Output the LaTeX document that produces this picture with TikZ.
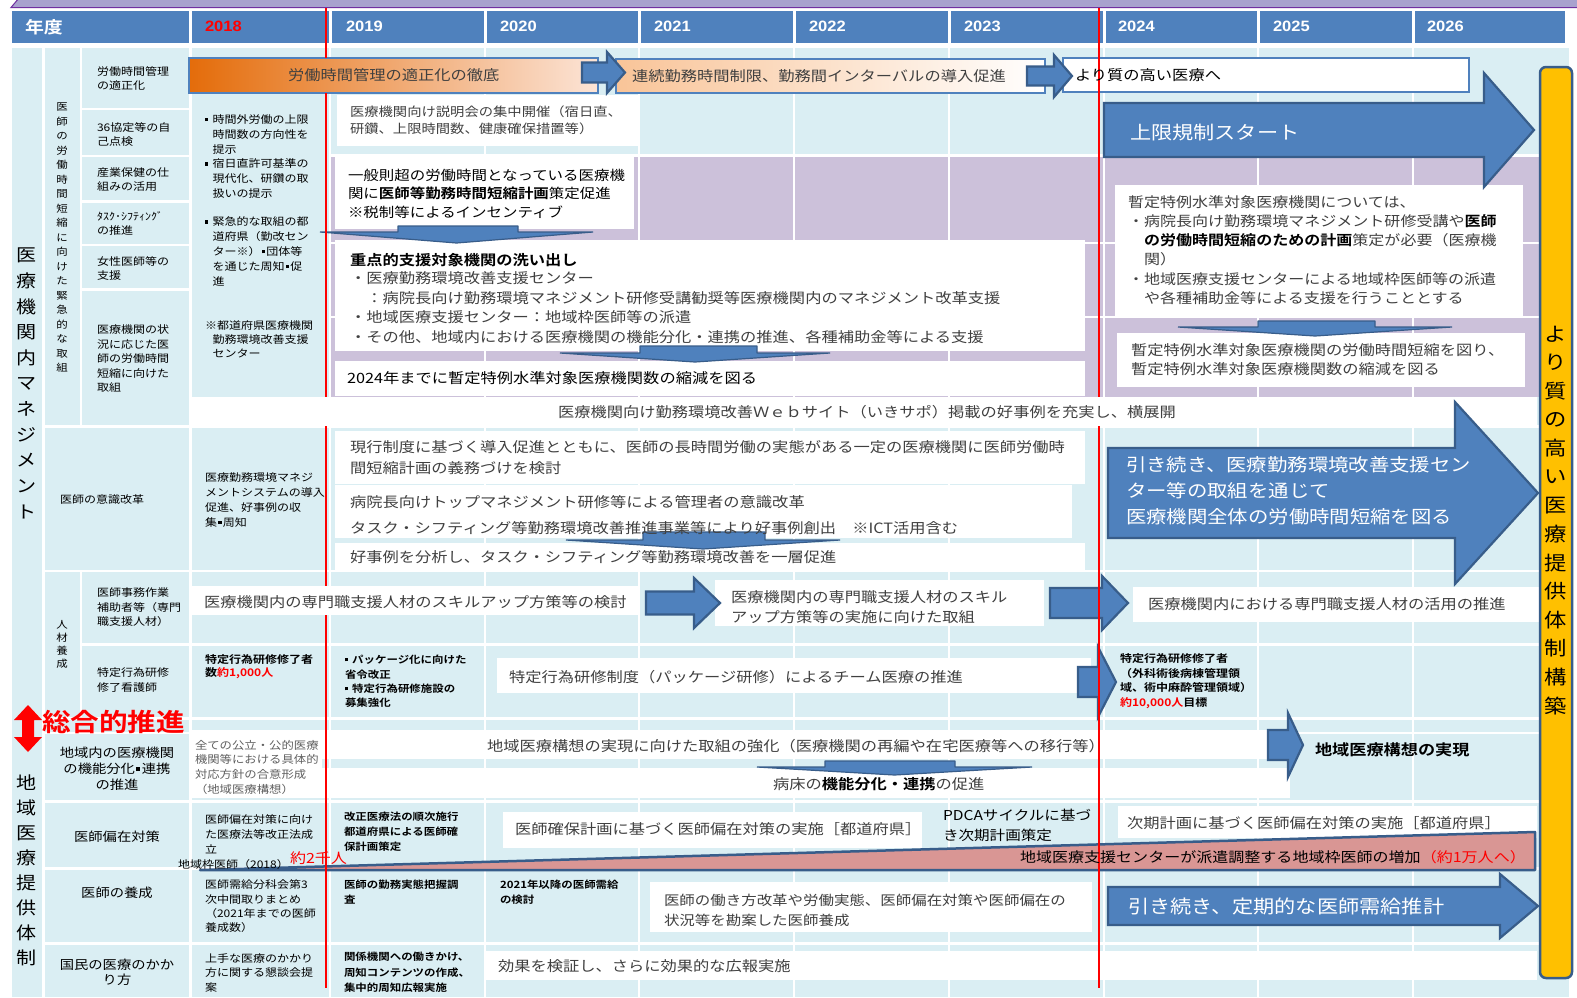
\documentclass[tikz,border=0pt]{standalone}
\usepackage{fontspec}
\setmainfont[FakeStretch=1.145,BoldFont={Noto Sans CJK JP Bold}]{Noto Sans CJK JP}
\newfontfamily\arialf[FakeStretch=1.1]{Liberation Sans}
\definecolor{cellblue}{RGB}{218,238,243}
\definecolor{hdrblue}{RGB}{79,129,189}
\definecolor{purp}{RGB}{204,193,218}
\definecolor{abfill}{RGB}{79,129,189}
\definecolor{abline}{RGB}{56,93,138}
\definecolor{txtgray}{RGB}{64,64,64}
\definecolor{lgray}{RGB}{96,96,96}
\definecolor{orangeL}{RGB}{228,108,10}
\definecolor{peach}{RGB}{252,228,214}
\definecolor{peach2}{RGB}{249,196,152}
\definecolor{yel}{RGB}{255,192,0}
\definecolor{pinkw}{RGB}{217,150,148}
\definecolor{topband}{RGB}{168,162,206}
\definecolor{topborder}{RGB}{112,48,160}
\definecolor{redc}{RGB}{255,0,0}
\newcommand\sq{\makebox[0.72em][l]{\rule[0.22em]{0.32em}{0.32em}}}
\newcommand\sqi{\makebox[0.55em]{\rule[0.22em]{0.32em}{0.32em}}}
\newcommand\ind{\hspace*{0.72em}}
\newcommand\bk[1]{{\bfseries\color{black}#1}}
\newcommand\rarrow[6]{\filldraw[barrow] (#1,{#4-#5}) -- (#2,{#4-#5}) -- (#2,{#4-#6}) -- (#3,#4) -- (#2,{#4+#6}) -- (#2,{#4+#5}) -- (#1,{#4+#5}) -- cycle;}
\newcommand\darrow[7]{\filldraw[dnarrow] (#1,#5) -- (#2,#5) -- (#2,#6) -- (#4,#6) -- ({(#3+#4)/2},#7) -- (#3,#6) -- (#1,#6) -- cycle;}
\newcommand\vtext[6]{\foreach \ch [count=\i from 0] in {#6} {\node[#2] (#1\i) at (#3,{#4+\i*#5}) {\ch};}}
\tikzset{
 base/.style={anchor=west, inner sep=0pt, outer sep=0pt, align=left},
 tx/.style={base, text=txtgray, font=\fontsize{14.2}{19.7}\selectfont},
 txb/.style={base, text=black, font=\fontsize{14.2}{19.7}\selectfont},
 sm/.style={base, text=black, font=\fontsize{10.5}{14.8}\selectfont},
 smb/.style={base, text=black, font=\bfseries\fontsize{10.5}{14.8}\selectfont},
 lbl/.style={base, text=black, font=\fontsize{10.5}{14}\selectfont},
 lblc/.style={anchor=center, inner sep=0pt, align=center, text=black, font=\fontsize{12.5}{16}\selectfont},
 big/.style={base, text=white, font=\fontsize{18}{26}\selectfont},
 yr/.style={base, text=white, font=\arialf\bfseries\fontsize{15}{15}\selectfont},
 vsmall/.style={inner sep=0pt, font=\fontsize{10}{10}\selectfont},
 vbig/.style={inner sep=0pt, font=\fontsize{17.5}{17.5}\selectfont},
 vyel/.style={inner sep=0pt, font=\fontsize{19.5}{19.5}\selectfont},
 grid/.style={white, line width=2.5pt},
 redl/.style={draw=redc, line width=2pt},
 barrow/.style={fill=abfill, draw=abline, line width=2.2pt, line join=miter},
 dnarrow/.style={fill=abfill, draw=abline, line width=1.2pt, line join=bevel},
 wbox/.style={fill=white},
 obar/.style={draw=hdrblue, line width=1.1pt},
}
\begin{document}
\begin{tikzpicture}[x=1pt,y=-1pt]
\useasboundingbox (0,0) rectangle (1577,997);
\fill[white] (0,0) rectangle (1577,997);
% top band
\filldraw[fill=topband, draw=topborder, line width=1pt] (11,7.5) -- (19,-2) -- (1580,-2) -- (1580,7.5) -- cycle;
% header
\fill[hdrblue] (12,11) rectangle (1565,43);
\foreach \xx in {190.5,330,485,639,794,949,1104,1258,1413} \draw[white, line width=3pt] (\xx,10) -- (\xx,44);
\node[base, text=white, font=\bfseries\fontsize{16.5}{16.5}\selectfont] (hNendo) at (25,27.5) {年度};
\node[yr, text=redc] (h2018) at (205,26.5) {2018};
\foreach \yv/\xv in {2019/346,2020/500,2021/654,2022/809,2023/964,2024/1118,2025/1273,2026/1427} \node[yr] (h\yv) at (\xv,26.5) {\yv};
% body background
\fill[cellblue] (12,48) rectangle (1569,997);
\fill[purp] (331,157) rectangle (1569,397);
% grid
\draw[grid] (43.5,48) -- (43.5,997);
\draw[grid] (81,48) -- (81,426.5);
\draw[grid] (81,571) -- (81,718.5);
\draw[grid] (190.5,48) -- (190.5,997);
\foreach \xx in {330,485,639,794,949,1104,1258,1413} \draw[grid] (\xx,48) -- (\xx,997);
\foreach \yy in {109,156,201.5,245,289.5} \draw[grid] (81,\yy) -- (190.5,\yy);
\draw[grid] (330,155.5) -- (1569,155.5);
\draw[grid] (330,243) -- (1569,243);
\draw[grid] (330,317) -- (1569,317);
\foreach \yy in {426.5,571,718.5,733,801.5,868.5,943.5} \draw[grid] (43.5,\yy) -- (1569,\yy);
\draw[grid] (81,644.5) -- (1569,644.5);
% white boxes
\fill[wbox] (337,95) rectangle (640,146);
\fill[wbox] (335,157) rectangle (634,229);
\fill[wbox] (335,240) rectangle (1085,351);
\fill[wbox] (335,361) rectangle (1085,396);
\fill[wbox] (1115,185) rectangle (1523,317);
\fill[wbox] (1117,333) rectangle (1525,387);
\fill[wbox] (335,431) rectangle (1085,484);
\fill[wbox] (335,485) rectangle (1072,538);
\fill[wbox] (335,543) rectangle (1085,570);
\fill[wbox] (715,580) rectangle (1044,626);
\fill[wbox] (1133,587) rectangle (1540,622);
\fill[wbox] (497,658) rectangle (1091,693);
\fill[wbox] (192,730) rectangle (1290,759);
\fill[wbox] (192,768) rectangle (1290,798);
\fill[wbox] (192,730) rectangle (322,798);
\fill[wbox] (503,812) rectangle (922,848);
\fill[wbox] (1118,806) rectangle (1537,838);
\fill[wbox] (650,882) rectangle (1092,932);
\fill[wbox] (484,951) rectangle (1537,980);
% wedge
\filldraw[fill=pinkw, draw=abline, line width=2.5pt, line join=round] (200,870) -- (1535,832) -- (1535,870) -- cycle;
% box to the right of the orange bars
\filldraw[fill=white, draw=hdrblue, line width=1.2pt] (1063,58) rectangle (1469,92);
% orange bars
\shade[left color=orangeL, right color=peach] (189,58) rectangle (598,93);
\draw[obar] (189,58) rectangle (598,93);
\shade[left color=peach2, right color=white] (616,59) rectangle (1045,93);
\draw[obar] (616,59) rectangle (1045,93);
% web band and skill-up box
\fill[wbox] (190,397) rectangle (1537,426);
\fill[wbox] (192,586) rectangle (640,615);
% right block arrows
\rarrow{582}{607}{625}{72.5}{10}{20.5}
\rarrow{1027}{1054}{1072}{76}{9.5}{21}
\rarrow{1104}{1484}{1534}{130}{27}{57}
\rarrow{1108}{1455}{1538}{493}{45}{91}
\rarrow{646}{694}{720}{603}{11.5}{25}
\rarrow{1050}{1102}{1128}{603}{15}{27}
\rarrow{1078}{1098}{1116}{682}{15}{35}
\rarrow{1268}{1288}{1303}{745}{15}{32}
\rarrow{1108}{1500}{1538}{906}{19}{32}
% down arrows
\darrow{398}{518}{320}{593}{226}{232}{243}
\darrow{640}{757}{560}{830}{346}{353}{362}
\darrow{1258}{1375}{1178}{1452}{321}{327}{336}
\darrow{643}{765}{566}{840}{532}{540}{549}
\darrow{825}{955}{757}{1032}{761}{767}{775}
% red lines
\draw[redl] (326,8) -- (326,58);
\draw[redl] (326,93) -- (326,397);
\draw[redl] (326,426) -- (326,586);
\draw[redl] (326,615) -- (326,988);
\draw[redl] (1099,8) -- (1099,397);
\draw[redl] (1099,426) -- (1099,988);
% yellow box
\filldraw[fill=yel, draw=abline, line width=2.5pt, rounded corners=6pt] (1540,67) rectangle (1572,978);
% red double arrow
\fill[redc] (28,705) -- (42,720) -- (34,720) -- (34,737) -- (42,737) -- (28,752) -- (14,737) -- (22,737) -- (22,720) -- (14,720) -- cycle;
\node[base, text=redc, font=\bfseries\fontsize{25}{25}\selectfont] (sogo) at (42,722) {総合的推進};
% vertical texts
\vtext{va}{vbig}{27}{255}{25.7}{医,療,機,関,内,マ,ネ,ジ,メ,ン,ト}
\vtext{vc}{vbig}{27}{783}{25}{地,域,医,療,提,供,体,制}
\vtext{vb}{vsmall}{62}{107}{14.5}{医,師,の,労,働,時,間,短,縮,に,向,け,た,緊,急,的,な,取,組}
\vtext{vj}{vsmall}{62}{625}{12.8}{人,材,養,成}
\vtext{vy}{vyel}{1556}{334}{28.6}{よ,り,質,の,高,い,医,療,提,供,体,制,構,築}
% column C labels
\node[lbl] (l1) at (97,78.5) {労働時間管理\\の適正化};
\node[lbl] (l2) at (97,135) {36協定等の自\\己点検};
\node[lbl] (l3) at (97,180) {産業保健の仕\\組みの活用};
\node[lbl] (l4) at (97,223.5) {ﾀｽｸ･ｼﾌﾃｨﾝｸﾞ\\の推進};
\node[lbl] (l5) at (97,268.5) {女性医師等の\\支援};
\node[lbl, font=\fontsize{10.5}{14.5}\selectfont] (l6) at (97,359) {医療機関の状\\況に応じた医\\師の労働時間\\短縮に向けた\\取組};
\node[lbl] (l7) at (60,500) {医師の意識改革};
\node[lbl, font=\fontsize{10.5}{14.5}\selectfont] (l8) at (97,607.5) {医師事務作業\\補助者等（専門\\職支援人材）};
\node[lbl, font=\fontsize{10.5}{15}\selectfont] (l9) at (97,680.5) {特定行為研修\\修了看護師};
\node[lblc] (l10) at (117,769) {地域内の医療機関\\の機能分化\sqi 連携\\の推進};
\node[lblc] (l11) at (117,837) {医師偏在対策};
\node[lblc] (l12) at (117,893) {医師の養成};
\node[lblc, font=\fontsize{12.5}{15}\selectfont] (l13) at (117,972.5) {国民の医療のかか\\り方};
% 2018 column
\node[sm] (c1) at (205,156.5) {\sq 時間外労働の上限\\\ind 時間数の方向性を\\\ind 提示\\\sq 宿日直許可基準の\\\ind 現代化、研鑽の取\\\ind 扱いの提示};
\node[sm] (c2) at (205,251.5) {\sq 緊急的な取組の都\\\ind 道府県（勤改セン\\\ind ター※）\sqi 団体等\\\ind を通じた周知\sqi 促\\\ind 進};
\node[sm, font=\fontsize{10.5}{14}\selectfont] (c3) at (205,339) {※都道府県医療機関\\\ind 勤務環境改善支援\\\ind センター};
\node[sm] (c4) at (205,500) {医療勤務環境マネジ\\メントシステムの導入\\促進、好事例の収\\集\sqi 周知};
\node[smb, font=\bfseries\fontsize{10.5}{13.5}\selectfont] (c5) at (205,666.5) {特定行為研修修了者\\数\textcolor{redc}{約1,000人}};
\node[sm, text=lgray, font=\fontsize{10.8}{14.7}\selectfont] (c6) at (195,767) {全ての公立・公的医療\\機関等における具体的\\対応方針の合意形成\\（地域医療構想）};
\node[sm] (c7) at (205,834.5) {医師偏在対策に向け\\た医療法等改正法成\\立};
\node[sm, font=\fontsize{10.5}{14.3}\selectfont] (c8) at (205,906.5) {医師需給分科会第3\\次中間取りまとめ\\（2021年までの医師\\養成数）};
\node[sm, font=\fontsize{10.5}{14.5}\selectfont] (c9) at (205,972.5) {上手な医療のかかり\\方に関する懇談会提\\案};
\node[sm] (c10) at (178,864) {地域枠医師（2018）};
\node[base, text=redc, font=\fontsize{14}{14}\selectfont] (c11) at (290,858) {約2千人};
% 2019 / 2020 small texts
\node[smb, font=\bfseries\fontsize{10}{14.4}\selectfont] (d1) at (345,681.5) {\sq パッケージ化に向けた\\省令改正\\\sq 特定行為研修施設の\\募集強化};
\node[smb, font=\bfseries\fontsize{10}{15}\selectfont] (d2) at (344,832) {改正医療法の順次施行\\都道府県による医師確\\保計画策定};
\node[smb, font=\bfseries\fontsize{10}{15}\selectfont] (d3) at (344,892.5) {医師の勤務実態把握調\\査};
\node[smb, font=\bfseries\fontsize{10}{15}\selectfont] (d4) at (500,892.5) {2021年以降の医師需給\\の検討};
\node[smb, font=\bfseries\fontsize{10}{15.5}\selectfont] (d5) at (344,972.5) {関係機関への働きかけ、\\周知コンテンツの作成、\\集中的周知広報実施};
\node[smb, font=\bfseries\fontsize{10.5}{14.7}\selectfont] (d6) at (1120,681) {特定行為研修修了者\\（外科術後病棟管理領\\域、術中麻酔管理領域）\\\textcolor{redc}{約10,000人}目標};
% timeline texts
\node[tx] (t1) at (288,75.5) {労働時間管理の適正化の徹底};
\node[tx] (t2) at (632,76) {連続勤務時間制限、勤務間インターバルの導入促進};
\node[txb] (t3) at (1075,75) {より質の高い医療へ};
\node[tx, font=\fontsize{12.5}{17}\selectfont] (t4) at (350,120.5) {医療機関向け説明会の集中開催（宿日直、\\研鑽、上限時間数、健康確保措置等）};
\node[txb, font=\fontsize{13.5}{18.5}\selectfont] (t5) at (348,193.5) {一般則超の労働時間となっている医療機\\関に\textbf{医師等勤務時間短縮計画}策定促進\\※税制等によるインセンティブ};
\node[txb, font=\bfseries\fontsize{14.2}{14.2}\selectfont] (t6) at (350,260) {重点的支援対象機関の洗い出し};
\node[tx] (t7) at (350,307.5) {・医療勤務環境改善支援センター\\　：病院長向け勤務環境マネジメント研修受講勧奨等医療機関内のマネジメント改革支援\\・地域医療支援センター：地域枠医師等の派遣\\・その他、地域内における医療機関の機能分化・連携の推進、各種補助金等による支援};
\node[txb] (t8) at (347,378) {2024年までに暫定特例水準対象医療機関数の縮減を図る};
\node[tx, font=\fontsize{14}{19.2}\selectfont] (t9) at (1128,250) {暫定特例水準対象医療機関については、\\・病院長向け勤務環境マネジメント研修受講や\bk{医師}\\　\bk{の労働時間短縮のための計画}策定が必要（医療機\\　関）\\・地域医療支援センターによる地域枠医師等の派遣\\　や各種補助金等による支援を行うこととする};
\node[tx, font=\fontsize{14.2}{19}\selectfont] (t10) at (1131,359.5) {暫定特例水準対象医療機関の労働時間短縮を図り、\\暫定特例水準対象医療機関数の縮減を図る};
\node[tx] (t11) at (558,412) {医療機関向け勤務環境改善Ｗｅｂサイト（いきサポ）掲載の好事例を充実し、横展開};
\node[tx, font=\fontsize{14.2}{21}\selectfont] (t12) at (350,457.5) {現行制度に基づく導入促進とともに、医師の長時間労働の実態がある一定の医療機関に医師労働時\\間短縮計画の義務づけを検討};
\node[tx] (t13) at (350,502) {病院長向けトップマネジメント研修等による管理者の意識改革};
\node[tx] (t14) at (350,528) {タスク・シフティング等勤務環境改善推進事業等により好事例創出　※ICT活用含む};
\node[tx] (t15) at (350,557) {好事例を分析し、タスク・シフティング等勤務環境改善を一層促進};
\node[tx] (t16) at (204,602) {医療機関内の専門職支援人材のスキルアップ方策等の検討};
\node[tx, font=\fontsize{14.2}{20}\selectfont] (t17) at (731,607) {医療機関内の専門職支援人材のスキル\\アップ方策等の実施に向けた取組};
\node[tx] (t18) at (1148,604) {医療機関内における専門職支援人材の活用の推進};
\node[tx] (t19) at (509,677) {特定行為研修制度（パッケージ研修）によるチーム医療の推進};
\node[tx] (t20) at (487,746) {地域医療構想の実現に向けた取組の強化（医療機関の再編や在宅医療等への移行等）};
\node[tx] (t21) at (773,784) {病床の\bk{機能分化・連携}の促進};
\node[txb, font=\bfseries\fontsize{15}{15}\selectfont] (t22) at (1315,750) {地域医療構想の実現};
\node[tx] (t23) at (515,829) {医師確保計画に基づく医師偏在対策の実施［都道府県］};
\node[txb, font=\fontsize{13.6}{20}\selectfont] (t24) at (943,825) {PDCAサイクルに基づ\\き次期計画策定};
\node[tx] (t25) at (1127,823) {次期計画に基づく医師偏在対策の実施［都道府県］};
\node[txb, font=\fontsize{14}{14}\selectfont] (t26) at (1020,857) {地域医療支援センターが派遣調整する地域枠医師の増加\textcolor{redc}{（約1万人へ）}};
\node[tx, font=\fontsize{13.5}{20}\selectfont] (t27) at (664,910) {医師の働き方改革や労働実態、医師偏在対策や医師偏在の\\状況等を勘案した医師養成};
\node[tx] (t28) at (498,966) {効果を検証し、さらに効果的な広報実施};
% big arrow texts
\node[big, font=\fontsize{18.5}{18.5}\selectfont] (a1) at (1130,133) {上限規制スタート};
\node[big, font=\fontsize{17.8}{26}\selectfont] (a2) at (1126,491) {引き続き、医療勤務環境改善支援セン\\ター等の取組を通じて\\医療機関全体の労働時間短縮を図る};
\node[big, font=\fontsize{18.5}{18.5}\selectfont] (a3) at (1128,906) {引き続き、定期的な医師需給推計};
\end{tikzpicture}
\end{document}
